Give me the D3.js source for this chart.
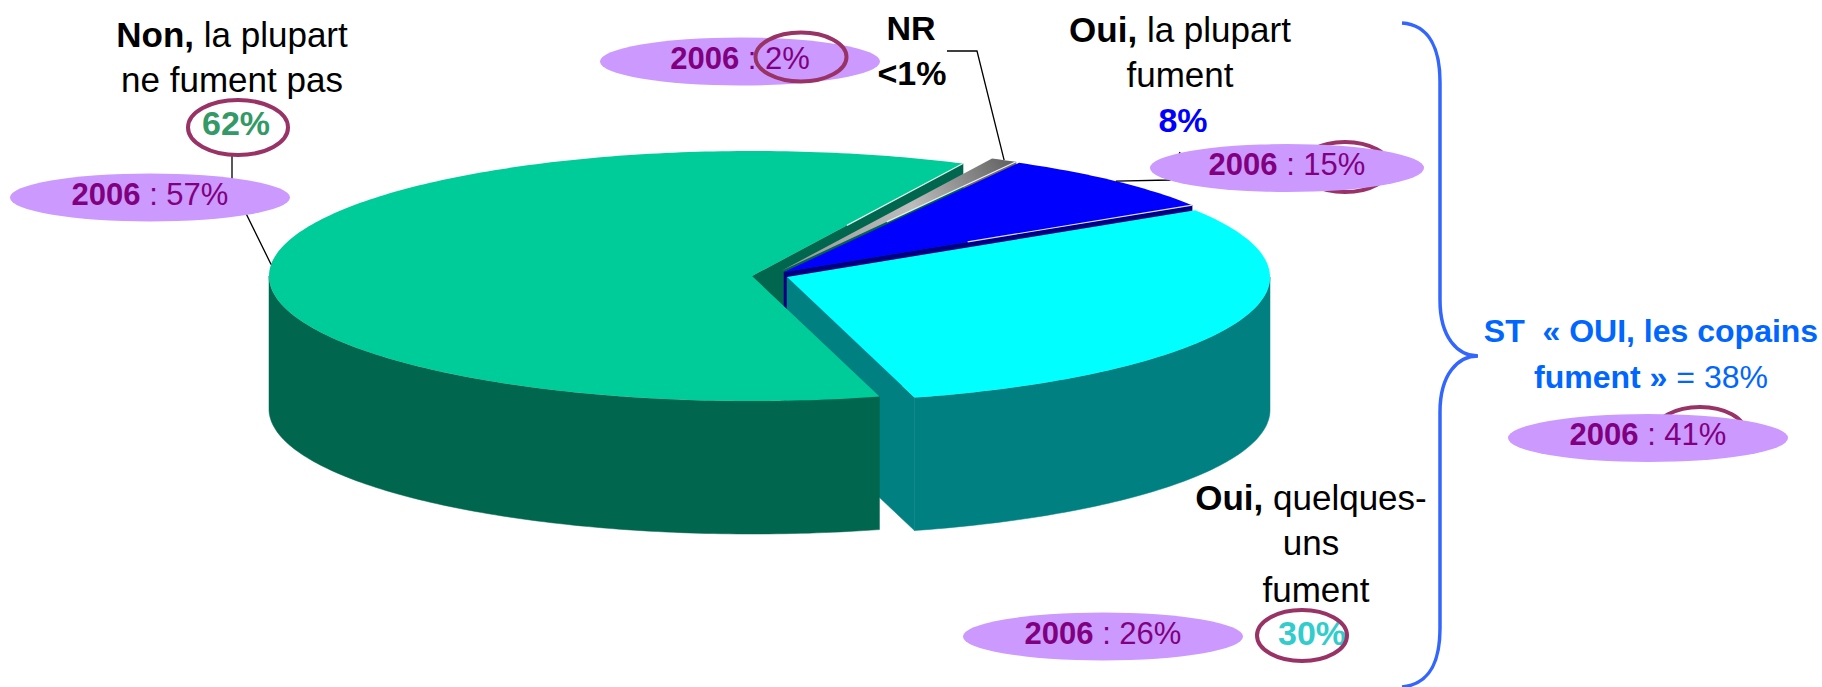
<!DOCTYPE html>
<html>
<head>
<meta charset="utf-8">
<script src="https://cdn.jsdelivr.net/npm/d3@7"></script>
<style>
  body { margin: 0; background: #fff; }
  text { font-family: "Liberation Sans", Arial, sans-serif; }
</style>
</head>
<body>
<script>
var w = 1822;
var h = 687;

// data
var categories = ["Non, la plupart ne fument pas", "NR", "Oui, la plupart fument", "Oui, quelques-uns fument"];
var values = [62, 0.9, 8, 30];
var values2006 = [57, 2, 15, 26];

// styles
var topColors = ["#00CC99", "url(#nrGrad)", "#0000FF", "#00FFFF"];
var sideColors = ["#00664D", "#6a6a6a", "#000080", "#008080"];
var shifts = [[-35, -1], [-6, -6], [-3, -5], [0, 0]]; // exploded slices, px
var cx = 787, cy = 277, rx = 483, ry = 125, depth = 133;

var svg = d3.select("body").append("svg").attr("width", w).attr("height", h);

var defs = svg.append("defs");
var grad = defs.append("linearGradient").attr("id", "nrGrad")
  .attr("gradientUnits", "userSpaceOnUse")
  .attr("x1", 1005).attr("y1", 160).attr("x2", 800).attr("y2", 268);
grad.append("stop").attr("offset", "0").attr("stop-color", "#666");
grad.append("stop").attr("offset", "0.45").attr("stop-color", "#bdbdbd");
grad.append("stop").attr("offset", "1").attr("stop-color", "#999");

var start = 164.7 * Math.PI / 180;
var pie = d3.pie().sort(null).value(function (d) { return d; })
  .startAngle(start).endAngle(start + 2 * Math.PI);
var arcs = pie(values);

function rim(a, s, dz) {
  return [cx + s[0] + rx * Math.sin(a), cy + s[1] - ry * Math.cos(a) + (dz || 0)];
}
function centre(s, dz) {
  return [cx + s[0], cy + s[1] + (dz || 0)];
}
function arcPts(a0, a1, s, dz) {
  var n = Math.max(4, Math.ceil((a1 - a0) * 60));
  return d3.range(n + 1).map(function (k) { return rim(a0 + (a1 - a0) * k / n, s, dz); });
}
var line = d3.line();

var cutFaces = [], sides = [];
arcs.forEach(function (d, i) {
  var s = shifts[i];
  // radial cut faces facing the viewer
  [[d.startAngle, d.startAngle - Math.PI / 2], [d.endAngle, d.endAngle + Math.PI / 2]].forEach(function (f) {
    if (Math.cos(f[1]) < -0.01) {
      var p = rim(f[0], s);
      var pts = [centre(s), p, rim(f[0], s, depth), centre(s, depth)];
      cutFaces.push({ i: i, pts: pts, key: (centre(s)[1] + p[1]) / 2 });
    }
  });
  // front part of the outer wall
  [Math.PI / 2, Math.PI / 2 + 2 * Math.PI].forEach(function (f) {
    var a0 = Math.max(d.startAngle, f), a1 = Math.min(d.endAngle, f + Math.PI);
    if (a1 > a0) {
      var pts = arcPts(a0, a1, s).concat(arcPts(a0, a1, s, depth).reverse());
      sides.push({ i: i, pts: pts });
    }
  });
});
cutFaces.sort(function (a, b) { return a.key - b.key; });

var pieG = svg.append("g");
pieG.selectAll("path.cut").data(cutFaces).enter().append("path")
  .attr("class", "cut")
  .attr("d", function (d) { return line(d.pts) + "Z"; })
  .style("fill", function (d) { return sideColors[d.i]; })
  .style("stroke", function (d) { return sideColors[d.i]; })
  .style("stroke-width", 0.5);
pieG.selectAll("path.side").data(sides).enter().append("path")
  .attr("class", "side")
  .attr("d", function (d) { return line(d.pts) + "Z"; })
  .style("fill", function (d) { return sideColors[d.i]; })
  .style("stroke", function (d) { return sideColors[d.i]; })
  .style("stroke-width", 0.5);
pieG.selectAll("path.top").data(arcs).enter().append("path")
  .attr("class", "top")
  .attr("d", function (d, i) {
    return line([centre(shifts[i])].concat(arcPts(d.startAngle, d.endAngle, shifts[i]))) + "Z";
  })
  .style("fill", function (d, i) { return topColors[i]; });
// thin highlight on the trailing edge
pieG.selectAll("line.hl").data(arcs.slice(0, 3)).enter().append("line")
  .attr("class", "hl")
  .attr("x1", function (d, i) { return centre(shifts[i])[0] + (rim(d.endAngle, shifts[i])[0] - centre(shifts[i])[0]) * 0.45; })
  .attr("y1", function (d, i) { return centre(shifts[i])[1] + (rim(d.endAngle, shifts[i])[1] - centre(shifts[i])[1]) * 0.45; })
  .attr("x2", function (d, i) { return rim(d.endAngle, shifts[i])[0]; })
  .attr("y2", function (d, i) { return rim(d.endAngle, shifts[i])[1]; })
  .style("stroke", "#fff").style("stroke-width", 1.2).style("opacity", 0.85);

function midRim(i) {
  var d = arcs[i];
  return rim((d.startAngle + d.endAngle) / 2, shifts[i]);
}
function pct(v) { return v < 1 ? "<1%" : Math.round(v) + "%"; }

// helpers for labels
function addText(g, x, y, parts, size, fill) {
  var t = g.append("text").attr("x", x).attr("y", y)
    .attr("text-anchor", "middle").style("font-size", size + "px")
    .style("fill", fill || "#000").style("white-space", "pre");
  parts.forEach(function (p) {
    t.append("tspan").text(p[0]).style("font-weight", p[1] ? "bold" : "normal");
  });
  return t;
}
function ring(g, x, y, rxx, ryy) {
  g.append("ellipse").attr("cx", x).attr("cy", y).attr("rx", rxx).attr("ry", ryy)
    .style("fill", "none").style("stroke", "#993366").style("stroke-width", 4);
}
function oldValue(g, x, y, v, rxx) {
  g.append("ellipse").attr("cx", x).attr("cy", y).attr("rx", rxx || 140).attr("ry", 24)
    .style("fill", "#CC99FF");
  addText(g, x, y + 7, [["2006", true], [" : " + v + "%", false]], 31, "#800080");
}
function leader(g, pts) {
  g.append("path").attr("d", line(pts))
    .style("fill", "none").style("stroke", "#000").style("stroke-width", 1.3);
}

var lab = svg.append("g");

// Non, la plupart ne fument pas
leader(lab, [[232, 155], [232, 185], midRim(0)]);
addText(lab, 232, 47, [["Non,", true], [" la plupart", false]], 35);
addText(lab, 232, 92, [["ne fument pas", false]], 35);
addText(lab, 236, 135, [[pct(values[0]), true]], 34, "#339966");
ring(lab, 238, 127.5, 50, 27.5);
oldValue(lab, 150, 197.5, values2006[0]);

// NR
leader(lab, [[947, 51], [977, 51], midRim(1)]);
addText(lab, 911, 40, [["NR", true]], 34);
addText(lab, 912, 85, [[pct(values[1]), true]], 34);
oldValue(lab, 740, 61.5, values2006[1]);
ring(lab, 801, 57, 45.5, 24.5);

// Oui, la plupart fument
leader(lab, [midRim(2), [1170, 180], [1180, 152]]);
addText(lab, 1180, 42, [["Oui,", true], [" la plupart", false]], 35);
addText(lab, 1180, 87, [["fument", false]], 35);
addText(lab, 1183, 132, [[pct(values[2]), true]], 34, "#0000FF");
ring(lab, 1345, 167, 45, 25);
oldValue(lab, 1287, 168, values2006[2], 137);

// Oui, quelques-uns fument
addText(lab, 1311, 510, [["Oui,", true], [" quelques-", false]], 35);
addText(lab, 1311, 555, [["uns", false]], 35);
addText(lab, 1316, 602, [["fument", false]], 35);
addText(lab, 1312, 645, [[pct(values[3]), true]], 34, "#33CCCC");
ring(lab, 1302, 635.5, 45, 25.5);
oldValue(lab, 1103, 636.5, values2006[3]);

// brace + subtotal of the two "Oui" answers
lab.append("path")
  .attr("d", "M1402,23 C1430,25 1440,50 1440,82 L1440,300 C1440,338 1458,356 1478,356 C1458,356 1440,374 1440,412 L1440,628 C1440,662 1430,684 1402,687")
  .style("fill", "none").style("stroke", "#3366FF").style("stroke-width", 3.5);
var st = values[2] + values[3];
var st2006 = values2006[2] + values2006[3];
addText(lab, 1651, 342, [["ST  \u00ab OUI, les copains", true]], 32, "#0066FF");
addText(lab, 1651, 388, [["fument \u00bb", true], [" = " + st + "%", false]], 32, "#0066FF");
ring(lab, 1700, 432, 45, 25);
oldValue(lab, 1648, 438, st2006);
</script>
</body>
</html>
